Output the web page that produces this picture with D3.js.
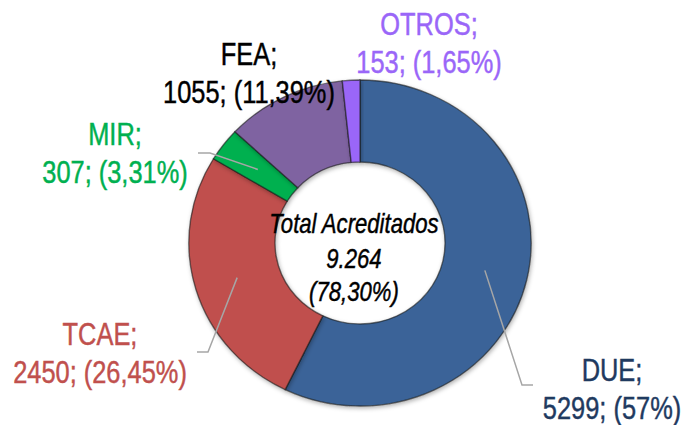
<!DOCTYPE html>
<html><head><meta charset="utf-8">
<script src="https://cdn.jsdelivr.net/npm/d3@7"></script>
<style>
html,body{margin:0;padding:0;background:#fff;}
svg{display:block;}
text{font-family:"Liberation Sans","Arial",sans-serif;}
</style></head>
<body>
<svg id="chart" width="686" height="425"></svg>
<script>
const categories = ["DUE", "TCAE", "MIR", "FEA", "OTROS"];
const values = [5299, 2450, 307, 1055, 153];
const percentLabels = ["57%", "26,45%", "3,31%", "11,39%", "1,65%"];
const sliceColors = ["#3a6498", "#c0504d", "#00b050", "#7f64a1", "#9a66f8"];
const labelColors = ["#1f3a60", "#c0504d", "#00b050", "#000000", "#9a66f8"];
const centerLines = ["Total Acreditados", "9.264", "(78,30%)"];

const svg = d3.select("#chart");
const cx = 360, cy = 243, R = 163, r = 81, sx = 1.05;
const narrow = 0.82;

const defs = svg.append("defs");
const f = defs.append("filter").attr("id","sh").attr("x","-20%").attr("y","-20%").attr("width","140%").attr("height","140%");
f.append("feDropShadow").attr("dx",1).attr("dy",2).attr("stdDeviation",2).attr("flood-color","#000").attr("flood-opacity",0.3);

const pie = d3.pie().sort(null).value(d => d);
const arcs = pie(values);
const arc = d3.arc().innerRadius(r).outerRadius(R);
const midArc = d3.arc().innerRadius((R + r) / 2).outerRadius((R + r) / 2);

const g = svg.append("g").attr("transform", `translate(${cx},${cy}) scale(${sx},1)`);
g.selectAll("path.slice").data(arcs).join("path")
  .attr("class","slice")
  .attr("d", arc)
  .attr("fill", (d,i) => sliceColors[i])
  .attr("stroke", "#1a1a1a")
  .attr("stroke-opacity", 0.6)
  .attr("stroke-width", 1.3)
  .attr("filter","url(#sh)");

function narrowText(x, y, str, size, color, italic) {
  const t = svg.append("text")
    .attr("transform", `translate(${x},${y}) scale(${narrow},1)`)
    .attr("text-anchor","middle")
    .attr("font-size", size)
    .attr("fill", color)
    .attr("stroke", color)
    .attr("stroke-width", 0.45)
    .text(str);
  if (italic) t.attr("font-style","italic");
  return t;
}

// label layout (position of text block and leader elbow/end)
const layout = [
  {x: 612, y: 381, elbow: [522, 385], end: [533, 385]},
  {x: 100, y: 345, elbow: [208, 352], end: [197, 352]},
  {x: 115, y: 145, elbow: [210, 153], end: [198, 153]},
  {x: 249, y: 65,  elbow: null, end: null},
  {x: 429, y: 35,  elbow: null, end: null}
];

const lineGen = d3.line();
arcs.forEach((d, i) => {
  const L = layout[i];
  if (L.elbow) {
    const c = midArc.centroid(d);
    const start = [cx + c[0] * sx, cy + c[1]];
    svg.append("path").attr("d", lineGen([start, L.elbow, L.end]))
      .attr("fill","none").attr("stroke","#a6a6a6").attr("stroke-width",1.5);
  }
  narrowText(L.x, L.y, categories[i] + ";", 31, labelColors[i]);
  narrowText(L.x, L.y + 38, d3.format("d")(values[i]) + "; (" + percentLabels[i] + ")", 31, labelColors[i]);
});

[233, 268, 301].forEach((y, i) => {
  narrowText(354, y, centerLines[i], 27, "#000", true);
});
</script>
</body></html>
